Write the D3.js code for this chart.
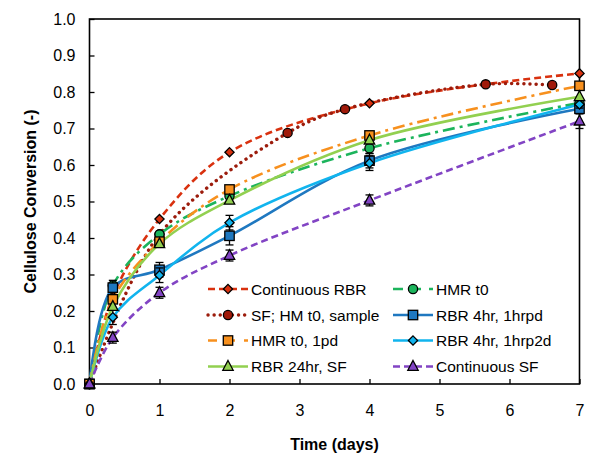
<!DOCTYPE html>
<html><head><meta charset="utf-8">
<script src="https://cdn.jsdelivr.net/npm/d3@7"></script>
<style>body{margin:0;background:#fff}svg{display:block}text{font-family:"Liberation Sans",Arial,sans-serif}</style>
</head><body><svg id="c" width="600" height="473"></svg>
<script>
// ---- data ----
const seriesNames = ["Continuous RBR","SF; HM t0, sample","HMR t0, 1pd","RBR 24hr, SF","HMR t0","RBR 4hr, 1hrpd","RBR 4hr, 1hrp2d","Continuous SF"];
const daysStd = [0, 0.333, 1, 2, 4, 7];
const daysSF = [0, 1, 2.83, 3.65, 5.66, 6.61];
const contRBR = [0, 0.24, 0.452, 0.635, 0.769, 0.851];
const sfHM = [0, 0.41, 0.688, 0.753, 0.821, 0.819];
const hmr1pd = [0, 0.232, 0.39, 0.533, 0.681, 0.817];
const rbr24 = [0, 0.212, 0.384, 0.503, 0.668, 0.787];
const hmrT0 = [0, 0.27, 0.41, 0.515, 0.646, 0.77];
const rbr4pd = [0, 0.264, 0.313, 0.406, 0.612, 0.754];
const rbr4p2d = [0, 0.183, 0.298, 0.442, 0.605, 0.766];
const contSF = [0, 0.127, 0.25, 0.352, 0.503, 0.72];
const errHmrT0 = [0, 0, 0, 0, 0.015, 0];
const err4pd = [0, 0.02, 0.02, 0.025, 0.02, 0.01];
const err4p2d = [0, 0.02, 0.02, 0.02, 0.02, 0.01];
const errContSF = [0, 0.015, 0.015, 0.015, 0.015, 0.02];
const xTicks = [0,1,2,3,4,5,6,7];
const yTicks = [0,0.1,0.2,0.3,0.4,0.5,0.6,0.7,0.8,0.9,1.0];

const seriesData = [
  {x: daysStd, y: contRBR, e: null},
  {x: daysSF, y: sfHM, e: null},
  {x: daysStd, y: hmr1pd, e: null},
  {x: daysStd, y: rbr24, e: null},
  {x: daysStd, y: hmrT0, e: errHmrT0},
  {x: daysStd, y: rbr4pd, e: err4pd},
  {x: daysStd, y: rbr4p2d, e: err4p2d},
  {x: daysStd, y: contSF, e: errContSF}
];
// drawing order (back to front)
const drawOrder = [0, 1, 4, 5, 2, 6, 3, 7];
// ---- styles ----
const styles = [
  {color:"#d9310f", fill:"#d9310f", dash:"7,4", legDash:"7,4", marker:"diamond", cap:"butt", w:2.6},
  {color:"#9c1c0c", fill:"#a01a0a", dash:"0.1,6", legDash:"0.1,6", marker:"circle", cap:"round", w:3.4},
  {color:"#f7901e", fill:"#f7901e", dash:"12,5,3,5", legDash:"9,9", marker:"square", cap:"butt", w:2.6},
  {color:"#92d050", fill:"#92d050", dash:null, legDash:null, marker:"triangle", cap:"butt", w:2.6},
  {color:"#1cb45c", fill:"#1cb45c", dash:"12,5,3,5", legDash:"10,8", marker:"circle", cap:"butt", w:2.6},
  {color:"#1f78c0", fill:"#1f78c0", dash:null, legDash:null, marker:"square", cap:"butt", w:2.6},
  {color:"#11b4ee", fill:"#11b4ee", dash:null, legDash:null, marker:"diamond", cap:"butt", w:2.6},
  {color:"#8244c4", fill:"#8244c4", dash:"7,4", legDash:"7,4", marker:"triangle", cap:"butt", w:2.6}
];

const svg = d3.select("#c");
const L=89.5, R=579.5, T=19, B=384;
const x = d3.scaleLinear().domain([0,7]).range([L,R]);
const y = d3.scaleLinear().domain([0,1]).range([B,T]);

// axes
const gx = svg.append("g").attr("transform",`translate(0,${B})`)
  .call(d3.axisBottom(x).tickValues(xTicks).tickSizeInner(-5).tickSizeOuter(0).tickPadding(21).tickFormat(d3.format("d")));
const gy = svg.append("g").attr("transform",`translate(${L},0)`)
  .call(d3.axisLeft(y).tickValues(yTicks).tickSizeInner(-5).tickSizeOuter(0).tickPadding(14).tickFormat(d3.format(".1f")));
[gx,gy].forEach(g=>{g.select(".domain").remove();g.selectAll("line").attr("stroke","#000").attr("stroke-width",1.3);
  g.selectAll("text").attr("font-size",16).attr("fill","#000");});
// frame
svg.append("rect").attr("x",L).attr("y",T).attr("width",R-L).attr("height",B-T)
  .attr("fill","none").attr("stroke","#000").attr("stroke-width",1.6);

// titles
svg.append("text").attr("x",(L+R)/2).attr("y",450).attr("text-anchor","middle")
  .attr("font-size",16).attr("font-weight","bold").text("Time (days)");
svg.append("text").attr("transform",`translate(36,${(T+B)/2}) rotate(-90)`).attr("text-anchor","middle")
  .attr("font-size",16).attr("font-weight","bold").text("Cellulose Conversion (-)");

function drawMarker(g, type, cx, cy, fill){
  if(type==="circle") g.append("circle").attr("cx",cx).attr("cy",cy).attr("r",4.6);
  else if(type==="square") g.append("rect").attr("x",cx-4.7).attr("y",cy-4.7).attr("width",9.4).attr("height",9.4);
  else if(type==="diamond") g.append("path").attr("d",`M${cx},${cy-4.6}L${cx+4.6},${cy}L${cx},${cy+4.6}L${cx-4.6},${cy}Z`);
  else if(type==="triangle") g.append("path").attr("d",`M${cx},${cy-6}L${cx+5.2},${cy+3.8}L${cx-5.2},${cy+3.8}Z`);
  g.selectAll("*").attr("fill",fill).attr("stroke","#000").attr("stroke-width",1.3);
}

const plot = svg.append("g");
const line = d3.line().curve(d3.curveCatmullRom.alpha(0.5)).x(d=>x(d[0])).y(d=>y(d[1]));
drawOrder.forEach(i=>{
  const s = seriesData[i], st = styles[i];
  const pts = s.x.map((v,j)=>[v,s.y[j]]);
  plot.append("path").attr("d",line(pts)).attr("fill","none").attr("stroke",st.color)
    .attr("stroke-width",st.w).attr("stroke-dasharray",st.dash).attr("stroke-linecap",st.cap);
});
drawOrder.forEach(i=>{
  const s = seriesData[i], st = styles[i];
  s.x.forEach((v,j)=>{
    if(s.e && s.e[j]>0){
      const eg = plot.append("g").attr("stroke","#000").attr("stroke-width",1.3);
      const y1=y(s.y[j]+s.e[j]), y2=y(s.y[j]-s.e[j]);
      eg.append("line").attr("x1",x(v)).attr("x2",x(v)).attr("y1",y1).attr("y2",y2);
      eg.append("line").attr("x1",x(v)-4).attr("x2",x(v)+4).attr("y1",y1).attr("y2",y1);
      eg.append("line").attr("x1",x(v)-4).attr("x2",x(v)+4).attr("y1",y2).attr("y2",y2);
    }
    drawMarker(plot.append("g"), st.marker, x(v), y(s.y[j]), st.fill);
  });
});

// legend
const legCols = [208, 393];
const legRows = [289, 315, 340.5, 366.5];
seriesNames.forEach((name,i)=>{
  const st = styles[i];
  const col = Math.floor(i/4), row = i%4;
  const lx = legCols[col], ly = legRows[row];
  const g = svg.append("g");
  g.append("line").attr("x1",lx).attr("x2",lx+40).attr("y1",ly).attr("y2",ly)
    .attr("stroke",st.color).attr("stroke-width",st.w).attr("stroke-dasharray",st.legDash).attr("stroke-linecap",st.cap);
  drawMarker(g.append("g"), st.marker, lx+20, ly, st.fill);
  g.append("text").attr("x",lx+43).attr("y",ly+5.5).attr("font-size",15.5).attr("fill","#000").text(name);
});
</script></body></html>
